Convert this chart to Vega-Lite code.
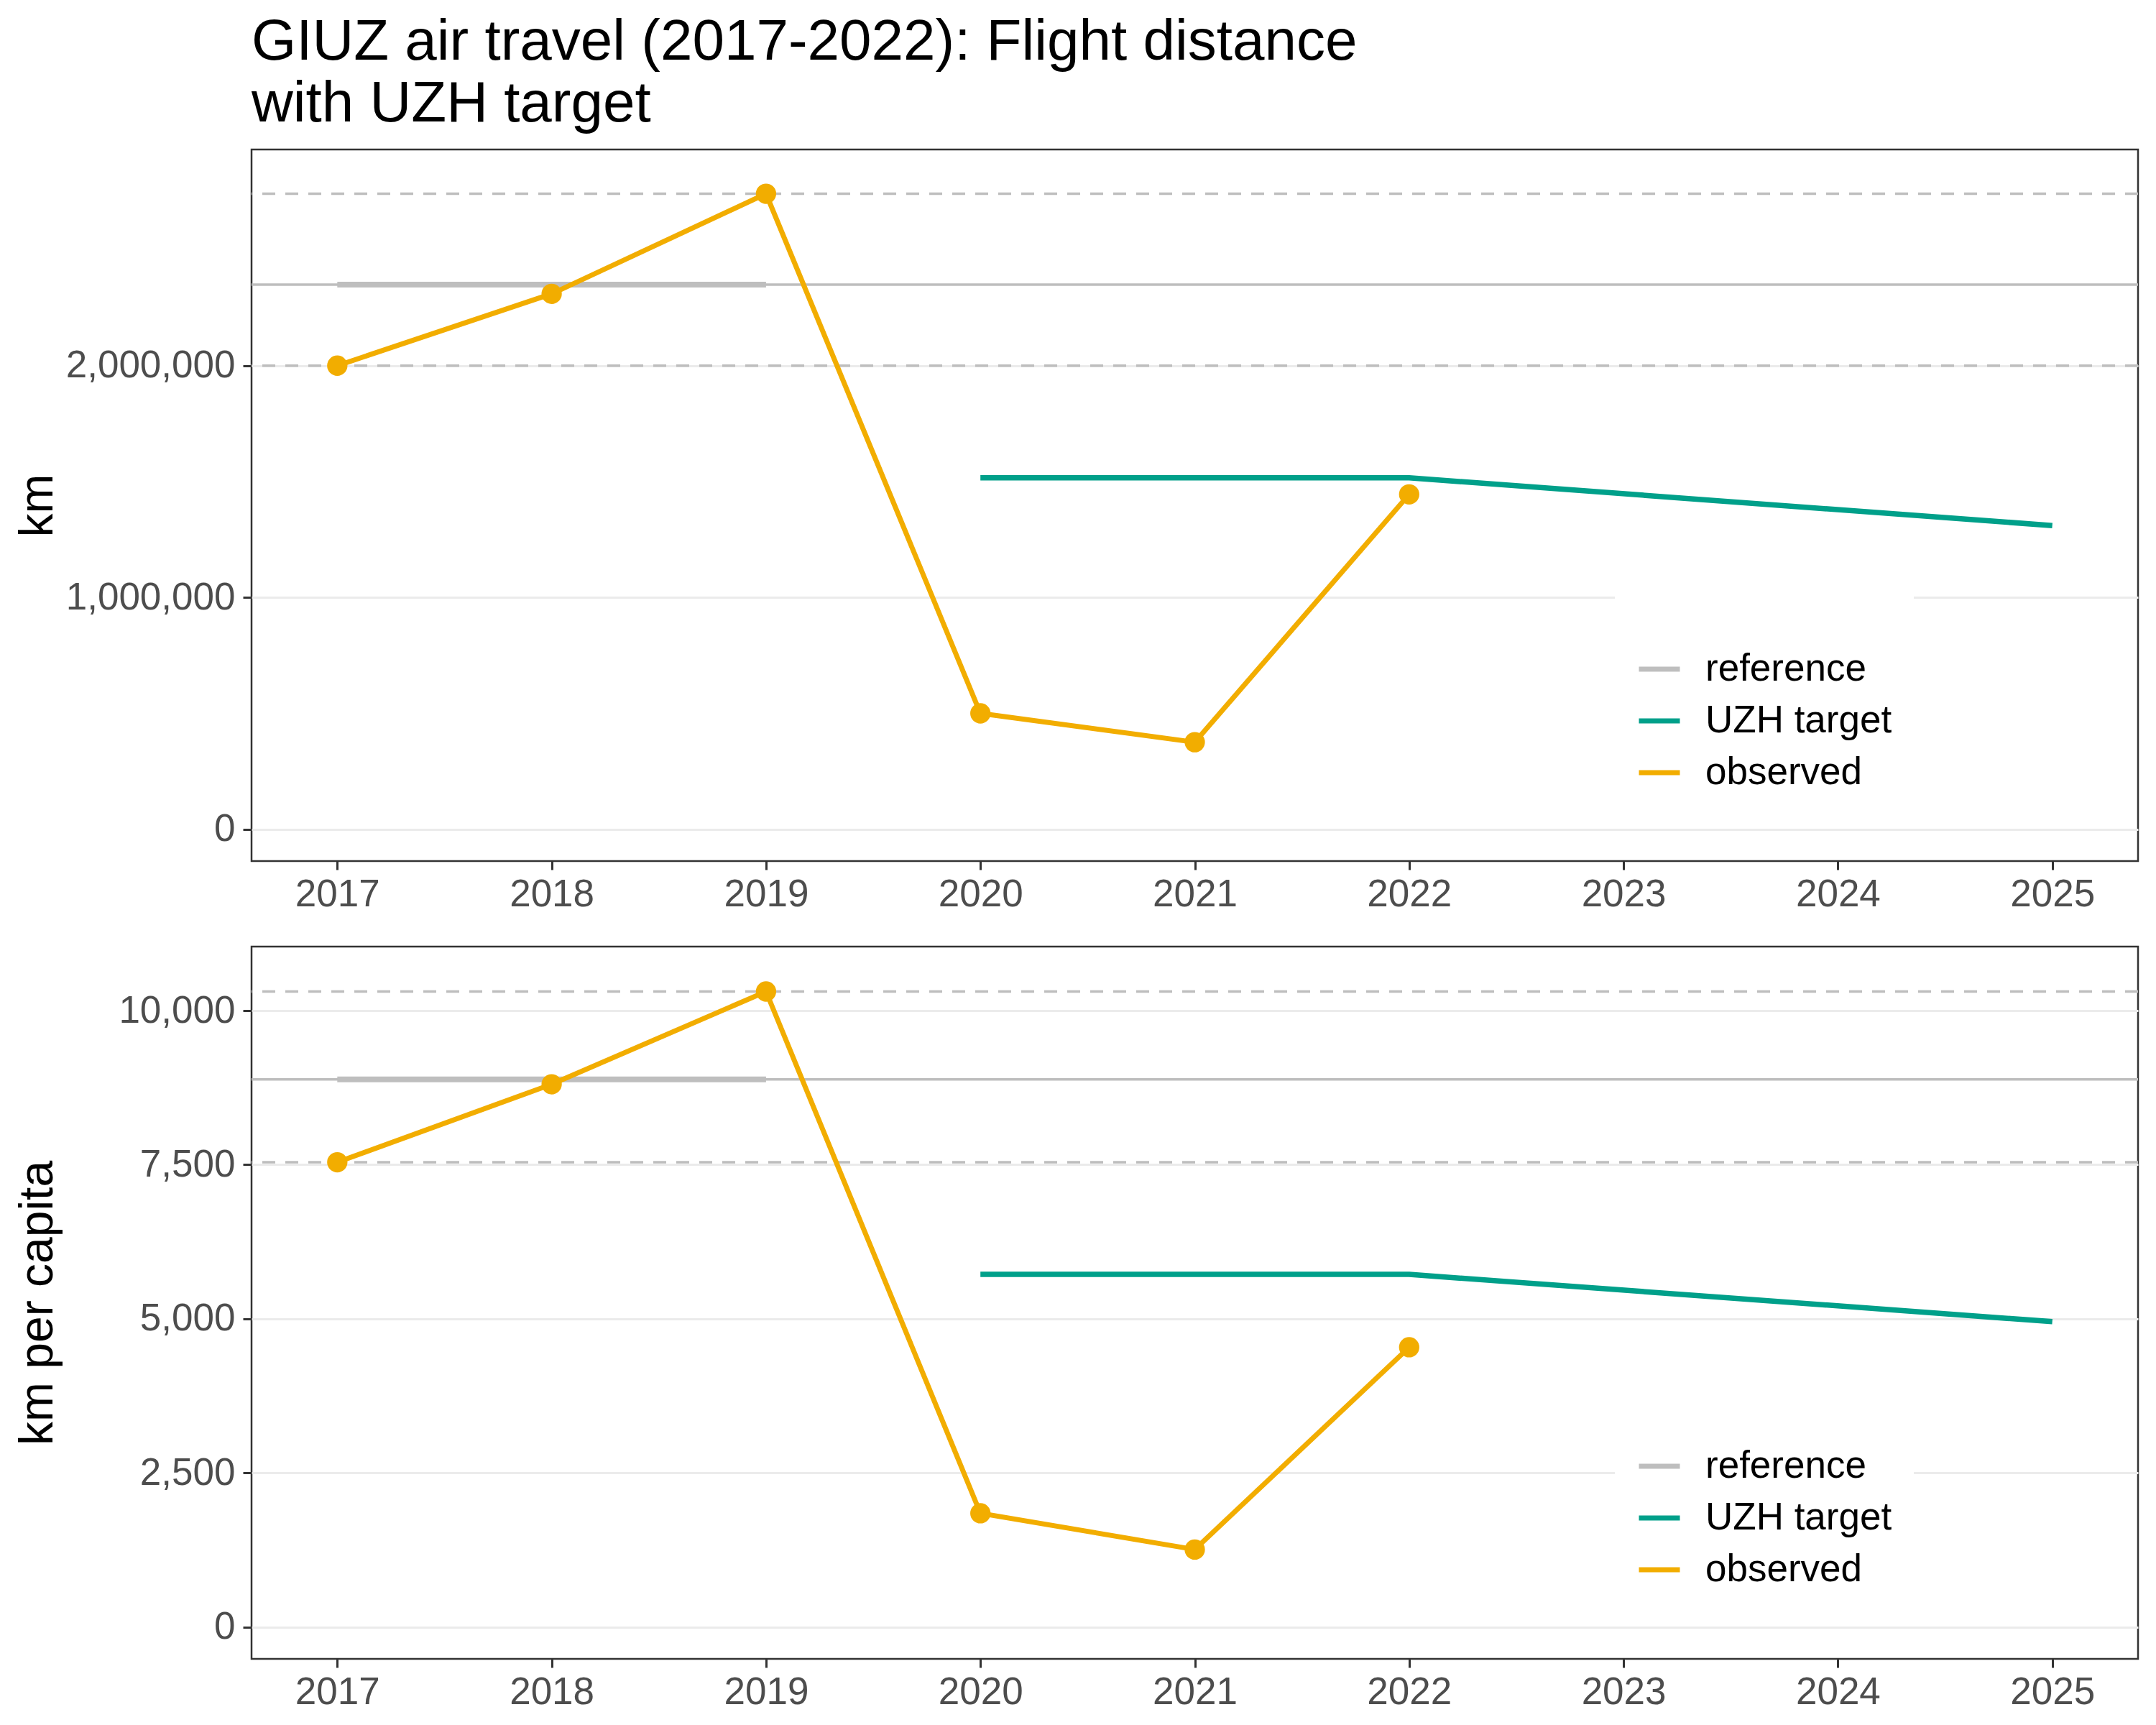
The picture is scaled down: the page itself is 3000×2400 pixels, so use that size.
{
  "$schema": "https://vega.github.io/schema/vega-lite/v6.json",
  "background": "white",
  "padding": {"left": 17, "top": 17, "right": 24, "bottom": 10},
  "spacing": 42,
  "config": {
    "font": "Liberation Sans",
    "view": {"stroke": "#333333", "strokeWidth": 2.5},
    "axis": {
      "domain": false,
      "tickColor": "#333333",
      "tickWidth": 3,
      "tickSize": 12,
      "labelFontSize": 53,
      "labelColor": "#4D4D4D",
      "labelLimit": 1000,
      "titleFontSize": 66,
      "titleFontWeight": "normal",
      "titleColor": "black",
      "gridColor": "#EBEBEB",
      "gridWidth": 3
    },
    "axisX": {"grid": false, "labelPadding": 8},
    "axisY": {"labelPadding": 11, "titleAngle": -90, "titleBaseline": "alphabetic", "titleX": -278},
    "legend": {
      "orient": "none",
      "legendX": 1897,
      "legendY": 588,
      "fillColor": "white",
      "padding": 30,
      "titleFontSize": 53,
      "titlePadding": 20,
      "labelFontSize": 53,
      "labelColor": "black",
      "labelLimit": 1000,
      "labelOffset": 32,
      "rowPadding": 13,
      "symbolType": "stroke",
      "symbolSize": 3249,
      "symbolStrokeWidth": 7
    }
  },
  "resolve": {"scale": {"color": "independent"}, "legend": {"color": "independent"}},
  "vconcat": [
    {
      "width": 2625,
      "height": 990,
      "title": {
        "text": ["GIUZ air travel (2017-2022): Flight distance", "with UZH target"],
        "anchor": "start",
        "frame": "group",
        "fontSize": 80,
        "fontWeight": "normal",
        "lineHeight": 86,
        "offset": 22,
        "color": "black"
      },
      "data": {
        "values": [
          {"kind": "bound", "value": 2000000},
          {"kind": "bound", "value": 2742000},
          {"kind": "refline", "value": 2350000},
          {"kind": "refseg", "series": "reference", "year": 2017, "year2": 2019, "value": 2350000},
          {"kind": "target", "series": "UZH target", "year": 2020, "value": 1516000},
          {"kind": "target", "series": "UZH target", "year": 2022, "value": 1516000},
          {"kind": "target", "series": "UZH target", "year": 2025, "value": 1310000},
          {"kind": "obs", "series": "observed", "year": 2017, "value": 2000000},
          {"kind": "obs", "series": "observed", "year": 2018, "value": 2310000},
          {"kind": "obs", "series": "observed", "year": 2019, "value": 2742000},
          {"kind": "obs", "series": "observed", "year": 2020, "value": 499500},
          {"kind": "obs", "series": "observed", "year": 2021, "value": 375000},
          {"kind": "obs", "series": "observed", "year": 2022, "value": 1444600}
        ]
      },
      "layer": [
        {
          "transform": [{"filter": "datum.kind == 'bound'"}],
          "mark": {"type": "rule", "color": "#BEBEBE", "strokeWidth": 3.5, "strokeDash": [18, 14]},
          "encoding": {
            "y": {"field": "value", "type": "quantitative", "scale": {"domain": [-138000, 2933000], "nice": false, "zero": false},
                  "axis": {"values": [0, 1000000, 2000000], "format": ",d", "title": "km", "titleY": 495}}
          }
        },
        {
          "transform": [{"filter": "datum.kind == 'refline'"}],
          "mark": {"type": "rule", "color": "#BEBEBE", "strokeWidth": 3.5},
          "encoding": {
            "y": {"field": "value", "type": "quantitative"}
          }
        },
        {
          "transform": [{"filter": "datum.kind == 'refseg'"}],
          "mark": {"type": "rule", "strokeWidth": 8},
          "encoding": {
            "x": {"field": "year", "type": "quantitative", "scale": {"domain": [2016.6, 2025.4], "nice": false, "zero": false},
                  "axis": {"values": [2017, 2018, 2019, 2020, 2021, 2022, 2023, 2024, 2025], "format": "d", "title": null}},
            "x2": {"field": "year2"},
            "y": {"field": "value", "type": "quantitative"},
            "color": {"field": "series", "type": "nominal",
                      "scale": {"domain": ["reference", "UZH target", "observed"], "range": ["#BEBEBE", "#00A08A", "#F2AD00"]},
                      "legend": {"title": "\u00a0"}}
          }
        },
        {
          "transform": [{"filter": "datum.kind == 'target'"}],
          "mark": {"type": "line", "strokeWidth": 7.5},
          "encoding": {
            "x": {"field": "year", "type": "quantitative"},
            "y": {"field": "value", "type": "quantitative"},
            "color": {"field": "series", "type": "nominal"}
          }
        },
        {
          "transform": [{"filter": "datum.kind == 'obs'"}],
          "mark": {"type": "line", "strokeWidth": 7},
          "encoding": {
            "x": {"field": "year", "type": "quantitative"},
            "y": {"field": "value", "type": "quantitative"},
            "color": {"field": "series", "type": "nominal"}
          }
        },
        {
          "transform": [{"filter": "datum.kind == 'obs'"}],
          "mark": {"type": "circle", "size": 800, "color": "#F2AD00", "opacity": 1},
          "encoding": {
            "x": {"field": "year", "type": "quantitative"},
            "y": {"field": "value", "type": "quantitative"}
          }
        }
      ]
    },
    {
      "width": 2625,
      "height": 991,
      "data": {
        "values": [
          {"kind": "bound", "value": 7540},
          {"kind": "bound", "value": 10310},
          {"kind": "refline", "value": 8883},
          {"kind": "refseg", "series": "reference", "year": 2017, "year2": 2019, "value": 8883},
          {"kind": "target", "series": "UZH target", "year": 2020, "value": 5720},
          {"kind": "target", "series": "UZH target", "year": 2022, "value": 5720},
          {"kind": "target", "series": "UZH target", "year": 2025, "value": 4954},
          {"kind": "obs", "series": "observed", "year": 2017, "value": 7540},
          {"kind": "obs", "series": "observed", "year": 2018, "value": 8805},
          {"kind": "obs", "series": "observed", "year": 2019, "value": 10310},
          {"kind": "obs", "series": "observed", "year": 2020, "value": 1844},
          {"kind": "obs", "series": "observed", "year": 2021, "value": 1256},
          {"kind": "obs", "series": "observed", "year": 2022, "value": 4538}
        ]
      },
      "layer": [
        {
          "transform": [{"filter": "datum.kind == 'bound'"}],
          "mark": {"type": "rule", "color": "#BEBEBE", "strokeWidth": 3.5, "strokeDash": [18, 14]},
          "encoding": {
            "y": {"field": "value", "type": "quantitative", "scale": {"domain": [-518, 11039], "nice": false, "zero": false},
                  "axis": {"values": [0, 2500, 5000, 7500, 10000], "format": ",d", "title": "km per capita", "titleY": 495.5}}
          }
        },
        {
          "transform": [{"filter": "datum.kind == 'refline'"}],
          "mark": {"type": "rule", "color": "#BEBEBE", "strokeWidth": 3.5},
          "encoding": {
            "y": {"field": "value", "type": "quantitative"}
          }
        },
        {
          "transform": [{"filter": "datum.kind == 'refseg'"}],
          "mark": {"type": "rule", "strokeWidth": 8},
          "encoding": {
            "x": {"field": "year", "type": "quantitative", "scale": {"domain": [2016.6, 2025.4], "nice": false, "zero": false},
                  "axis": {"values": [2017, 2018, 2019, 2020, 2021, 2022, 2023, 2024, 2025], "format": "d", "title": null}},
            "x2": {"field": "year2"},
            "y": {"field": "value", "type": "quantitative"},
            "color": {"field": "series", "type": "nominal",
                      "scale": {"domain": ["reference", "UZH target", "observed"], "range": ["#BEBEBE", "#00A08A", "#F2AD00"]},
                      "legend": {"title": "\u00a0"}}
          }
        },
        {
          "transform": [{"filter": "datum.kind == 'target'"}],
          "mark": {"type": "line", "strokeWidth": 7.5},
          "encoding": {
            "x": {"field": "year", "type": "quantitative"},
            "y": {"field": "value", "type": "quantitative"},
            "color": {"field": "series", "type": "nominal"}
          }
        },
        {
          "transform": [{"filter": "datum.kind == 'obs'"}],
          "mark": {"type": "line", "strokeWidth": 7},
          "encoding": {
            "x": {"field": "year", "type": "quantitative"},
            "y": {"field": "value", "type": "quantitative"},
            "color": {"field": "series", "type": "nominal"}
          }
        },
        {
          "transform": [{"filter": "datum.kind == 'obs'"}],
          "mark": {"type": "circle", "size": 800, "color": "#F2AD00", "opacity": 1},
          "encoding": {
            "x": {"field": "year", "type": "quantitative"},
            "y": {"field": "value", "type": "quantitative"}
          }
        }
      ]
    }
  ]
}
